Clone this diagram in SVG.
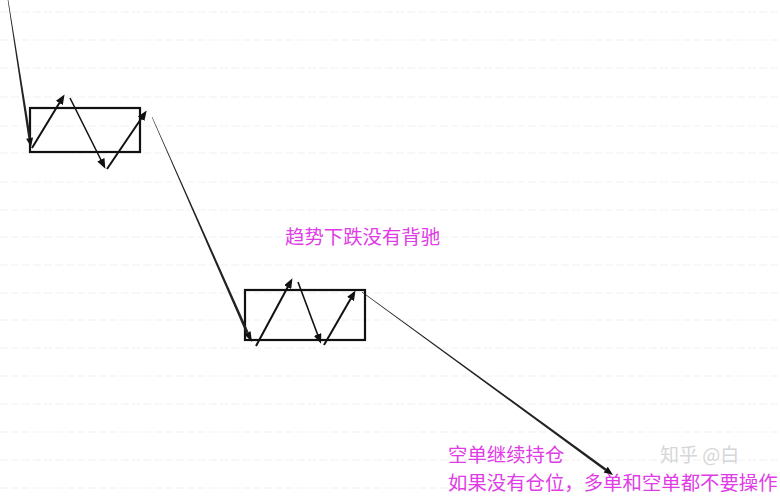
<svg xmlns="http://www.w3.org/2000/svg" width="780" height="499" viewBox="0 0 780 499">
<defs>
<style>
.grid{stroke:#f1f1f1;stroke-width:1;stroke-dasharray:8 3}
.box{fill:none;stroke:#111;stroke-width:2.2}
.arr{stroke:#111;stroke-width:2;fill:none;marker-end:url(#ah)}
.thin{stroke-width:1.6}
.wedge{fill:#222;stroke:none}
.head{fill:#111;stroke:none}
.lbl{font-family:"Noto Sans CJK SC","Noto Sans",sans-serif;font-size:19.4px;fill:#e03ce6}
.wm{font-family:"Noto Sans CJK SC","Noto Sans",sans-serif;font-size:19px;fill:#d6d6d6}
</style>
<marker id="ah" markerUnits="userSpaceOnUse" markerWidth="11" markerHeight="8" refX="7" refY="4" orient="auto">
<path d="M0,0 L10,4 L0,8 z" fill="#111"/>
</marker>
</defs>
<rect width="780" height="499" fill="#ffffff"/>
<g id="grid">
<line class="grid" x1="0" y1="12" x2="780" y2="12"/>
<line class="grid" x1="0" y1="40" x2="780" y2="40"/>
<line class="grid" x1="0" y1="68" x2="780" y2="68"/>
<line class="grid" x1="0" y1="97" x2="780" y2="97"/>
<line class="grid" x1="0" y1="126" x2="780" y2="126"/>
<line class="grid" x1="0" y1="153" x2="780" y2="153"/>
<line class="grid" x1="0" y1="182" x2="780" y2="182"/>
<line class="grid" x1="0" y1="210" x2="780" y2="210"/>
<line class="grid" x1="0" y1="237" x2="780" y2="237"/>
<line class="grid" x1="0" y1="265" x2="780" y2="265"/>
<line class="grid" x1="0" y1="293" x2="780" y2="293"/>
<line class="grid" x1="0" y1="320" x2="780" y2="320"/>
<line class="grid" x1="0" y1="348" x2="780" y2="348"/>
<line class="grid" x1="0" y1="376" x2="780" y2="376"/>
<line class="grid" x1="0" y1="404" x2="780" y2="404"/>
<line class="grid" x1="0" y1="432" x2="780" y2="432"/>
<line class="grid" x1="0" y1="460" x2="780" y2="460"/>
<line class="grid" x1="0" y1="488" x2="780" y2="488"/>
</g>
<g id="box1"><rect class="box" x="30" y="108" width="110" height="44"/></g>
<g id="box2"><rect class="box" x="245" y="290" width="120" height="50"/></g>
<g id="connectors">
<polygon class="wedge" points="8.3,-0.05 7.7,0.05 28.3,138.3 30.9,137.9"/>
<polygon class="head" points="31,147 33.06,137.56 26.14,138.64"/>
<line class="arr" x1="32" y1="148" x2="63" y2="97"/>
<line class="arr thin" x1="70" y1="98" x2="104" y2="166"/>
<line class="arr" x1="107" y1="169" x2="145" y2="113"/>
<polygon class="wedge" points="152.27,116.88 151.73,117.12 246.08,333.34 248.64,332.2"/>
<polygon class="head" points="252,342 250.56,331.36 244.16,334.18"/>
<line class="arr" x1="256" y1="346" x2="291" y2="281"/>
<line class="arr thin" x1="298" y1="282" x2="320" y2="341"/>
<line class="arr" x1="324" y1="345" x2="354" y2="293"/>
<polygon class="wedge" points="362.18,291.76 361.82,292.24 604.96,470.75 606.5,468.65"/>
<polygon class="head" points="613,475 607.79,466.87 603.67,472.53"/>
</g>
<g id="watermark"><text class="wm" x="660" y="462">知乎 @白</text></g>
<g id="label1"><text class="lbl" x="285" y="244">趋势下跌没有背驰</text></g>
<g id="label2">
<text class="lbl" x="448" y="462">空单继续持仓</text>
<text class="lbl" x="448" y="490">如果没有仓位，多单和空单都不要操作</text>
</g>
</svg>
